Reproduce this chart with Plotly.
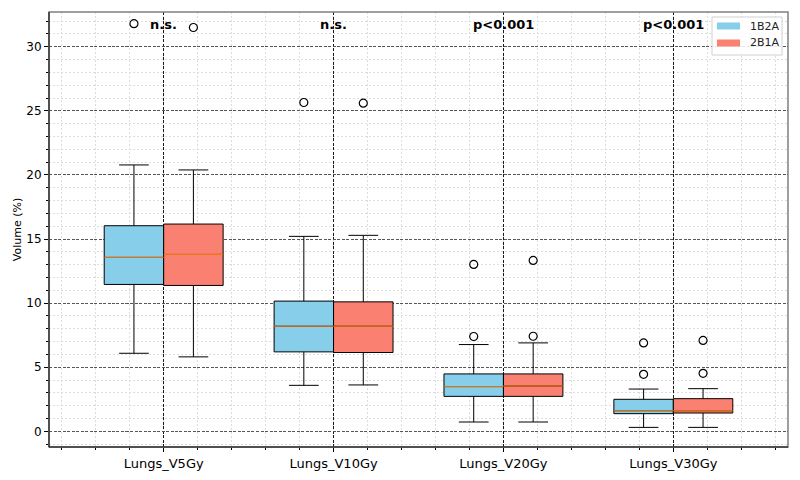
import plotly.graph_objects as go

categories = ["Lungs_V5Gy", "Lungs_V10Gy", "Lungs_V20Gy", "Lungs_V30Gy"]
positions = [1, 2, 3, 4]
sig_labels = ["n.s.", "n.s.", "p<0.001", "p<0.001"]

# Group 1B2A
g1_lower = [6.09, 3.59, 0.73, 0.31]
g1_q1 = [11.46, 6.20, 2.73, 1.38]
g1_med = [13.57, 8.20, 3.49, 1.61]
g1_q3 = [16.04, 10.16, 4.48, 2.50]
g1_upper = [20.78, 15.21, 6.77, 3.30]
g1_out = [[31.8], [25.65], [13.02, 7.40], [6.90, 4.45]]

# Group 2B1A
g2_lower = [5.81, 3.62, 0.73, 0.31]
g2_q1 = [11.38, 6.15, 2.73, 1.43]
g2_med = [13.80, 8.20, 3.54, 1.61]
g2_q3 = [16.17, 10.10, 4.48, 2.55]
g2_upper = [20.39, 15.29, 6.90, 3.33]
g2_out = [[31.5], [25.6], [13.33, 7.42], [7.09, 4.53]]

group_names = ["1B2A", "2B1A"]
group_colors = ["#87CEEB", "#FA8072"]

sig_y = 31.77
BW = 0.35
groups = [
    (group_names[0], group_colors[0], -BW / 2, g1_lower, g1_q1, g1_med, g1_q3, g1_upper, g1_out),
    (group_names[1], group_colors[1], BW / 2, g2_lower, g2_q1, g2_med, g2_q3, g2_upper, g2_out),
]

W, H = 800, 480
ML, MR, MT, MB = 49, 12, 12, 33
PW, PH = W - ML - MR, H - MT - MB


def px(x):
    return (x - ML) / PW


def py(y):
    return 1 - (y - MT) / PH


fig = go.Figure()
font = "DejaVu Sans, Arial, sans-serif"

for name, color, off, lo, q1, med, q3, up, outs in groups:
    xs = [p + off for p in positions]
    fig.add_trace(go.Box(
        x=xs, lowerfence=lo, q1=q1, median=med, q3=q3, upperfence=up,
        width=BW, whiskerwidth=0.5, fillcolor=color,
        line=dict(color="black", width=1), boxpoints=False,
        showlegend=False, hoverinfo="skip", name=name,
    ))
    mx, my = [], []
    for x, m in zip(xs, med):
        mx += [x - BW / 2, x + BW / 2, None]
        my += [m, m, None]
    fig.add_trace(go.Scatter(x=mx, y=my, mode="lines",
                             line=dict(color="#ff7f0e", width=1),
                             showlegend=False, hoverinfo="skip"))
    ox, oy = [], []
    for x, vals in zip(xs, outs):
        for v in vals:
            ox.append(x)
            oy.append(v)
    fig.add_trace(go.Scatter(x=ox, y=oy, mode="markers",
                             marker=dict(symbol="circle-open", size=8,
                                         color="black", line=dict(width=1.2)),
                             showlegend=False, hoverinfo="skip"))

for p, lab in zip(positions, sig_labels):
    fig.add_annotation(x=p, y=sig_y, text="<b>%s</b>" % lab, showarrow=False,
                       font=dict(family=font, size=13, color="black"),
                       xanchor="center", yanchor="middle")

# frame
fig.add_shape(type="rect", xref="paper", yref="paper", x0=0, x1=1, y0=0, y1=1,
              line=dict(color="#808080", width=1.5), layer="above")
fig.add_shape(type="line", xref="paper", yref="paper", x0=0, x1=0, y0=0, y1=1,
              line=dict(color="black", width=1), layer="above")
fig.add_shape(type="line", xref="paper", yref="paper", x0=0, x1=1, y0=0, y1=0,
              line=dict(color="black", width=1), layer="above")

# legend (matplotlib-like)
fig.add_shape(type="rect", xref="paper", yref="paper",
              x0=px(712), x1=px(782), y0=py(55), y1=py(17),
              line=dict(color="#d0d0d0", width=1),
              fillcolor="rgba(255,255,255,0.85)", layer="above")
for i, (name, color) in enumerate(zip(group_names, group_colors)):
    cy = 26 + 17 * i
    fig.add_shape(type="rect", xref="paper", yref="paper",
                  x0=px(717), x1=px(740), y0=py(cy + 3.5), y1=py(cy - 3.5),
                  line=dict(width=0), fillcolor=color, layer="above")
    fig.add_annotation(xref="paper", yref="paper", x=px(748), y=py(cy),
                       text=name, showarrow=False, xanchor="left",
                       yanchor="middle",
                       font=dict(family=font, size=11, color="#222222"))

fig.update_layout(
    width=W, height=H,
    margin=dict(l=ML, r=MR, t=MT, b=MB),
    paper_bgcolor="white", plot_bgcolor="white",
    boxmode="overlay", showlegend=False,
    font=dict(family=font, color="black"),
    xaxis=dict(
        range=[0.325, 4.675], tickmode="array", tickvals=positions,
        ticktext=categories, tickfont=dict(size=13),
        ticks="outside", ticklen=4, tickcolor="black", automargin=False,
        showgrid=True, gridcolor="#1a1a1a", griddash="3px,1.5px", gridwidth=1,
        zeroline=False,
        minor=dict(dtick=0.2, tick0=0, showgrid=True, gridcolor="#dddddd",
                   griddash="2px,2px", gridwidth=1, ticks="outside", ticklen=2,
                   tickcolor="black"),
    ),
    yaxis=dict(
        range=[-1.22, 32.71], dtick=5, tick0=0, tickfont=dict(size=12),
        ticks="outside", ticklen=4, tickcolor="black", automargin=False,
        showgrid=True, gridcolor="#555555", griddash="3px,1.5px", gridwidth=1,
        zeroline=False,
        title=dict(text="Volume (%)", font=dict(size=11), standoff=2),
        minor=dict(dtick=1, showgrid=True, gridcolor="#dddddd",
                   griddash="2px,2px", gridwidth=1, ticks="outside", ticklen=2,
                   tickcolor="black"),
    ),
)

fig.write_html("out.html")
